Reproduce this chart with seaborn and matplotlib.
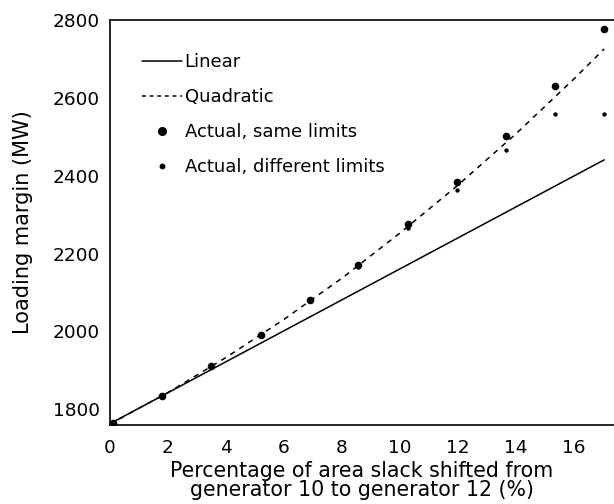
import numpy as np
import pandas as pd
import seaborn as sns
from matplotlib import pyplot as plt
from matplotlib.lines import Line2D

# data
shift_pct = [0.1, 1.8, 3.5, 5.2, 6.9, 8.57, 10.28, 11.96, 13.66, 15.34, 17.04]
same_limits = [1765, 1833, 1911, 1992, 2081, 2172, 2277, 2385, 2503, 2632, 2776]
diff_limits = [1765, 1833, 1911, 1992, 2081, 2166, 2266, 2364, 2467, 2560, 2560]

linear_x = [0.0, 17.04]
linear_y = [1763, 2441]

quad_x = [0, 2, 4, 6, 8, 10, 12, 14, 16, 17.04]
quad_y = [1762, 1843, 1933, 2031, 2137, 2253, 2376, 2508, 2649, 2726]

yticks = [1800, 2000, 2200, 2400, 2600, 2800]
xticks = [0, 2, 4, 6, 8, 10, 12, 14, 16]

sns.set_style("white", {"text.color": "black", "axes.labelcolor": "black",
                        "xtick.color": "black", "ytick.color": "black"})
plt.rcParams['font.family'] = ['DejaVu Sans']

fig = plt.figure(figsize=(6.14, 5.04), dpi=100)
ax = fig.add_axes([0.179, 0.157, 0.821, 0.803])

lin_df = pd.DataFrame({"x": linear_x, "y": linear_y})
quad_df = pd.DataFrame({"x": quad_x, "y": quad_y})
pts_df = pd.DataFrame({"x": shift_pct, "same": same_limits, "diff": diff_limits})

sns.lineplot(data=lin_df, x="x", y="y", color="black", linewidth=1.1, ax=ax)
sns.lineplot(data=quad_df, x="x", y="y", color="black", linewidth=1.1,
             linestyle=(0, (3.5, 3.5)), ax=ax)
sns.scatterplot(data=pts_df, x="x", y="same", color="black", s=30,
                linewidth=0, ax=ax, zorder=3)
sns.scatterplot(data=pts_df, x="x", y="diff", color="black", s=10,
                linewidth=0, ax=ax, zorder=3)

ax.set_xlim(0, 17.38)
ax.set_ylim(1760, 2800)
ax.set_xticks(xticks)
ax.set_yticks(yticks)
ax.set_yticks([1900, 2100, 2300, 2500, 2700], minor=True)
ax.tick_params(axis="both", which="both", direction="in", length=5, width=1,
               color="black", labelcolor="black", labelsize=13.3)
ax.tick_params(axis="x", pad=10)
ax.tick_params(axis="y", pad=7)
ax.spines["right"].set_visible(False)
for s in ["left", "bottom", "top"]:
    ax.spines[s].set_color("black")
    ax.spines[s].set_linewidth(1.2)

ax.set_xlabel("Percentage of area slack shifted from\ngenerator 10 to generator 12 (%)",
              fontsize=14.8, linespacing=0.95, labelpad=3, color="black")
ax.set_ylabel("Loading margin (MW)", fontsize=15, labelpad=14, color="black")

handles = [
    Line2D([], [], color="black", linewidth=1.1),
    Line2D([], [], color="black", linewidth=1.1, linestyle=(0, (2.5, 2.5))),
    Line2D([], [], color="black", marker="o", markersize=5.5, linestyle="none"),
    Line2D([], [], color="black", marker="o", markersize=3.2, linestyle="none"),
]
labels = ["Linear", "Quadratic", "Actual, same limits", "Actual, different limits"]
leg = ax.legend(handles, labels, loc="upper left", bbox_to_anchor=(0.049, 0.937),
                frameon=False, fontsize=13, handlelength=2.2, handletextpad=0.17,
                labelspacing=0.95, borderaxespad=0)
for t in leg.get_texts():
    t.set_color("black")

fig.savefig("out.png", dpi=100)
